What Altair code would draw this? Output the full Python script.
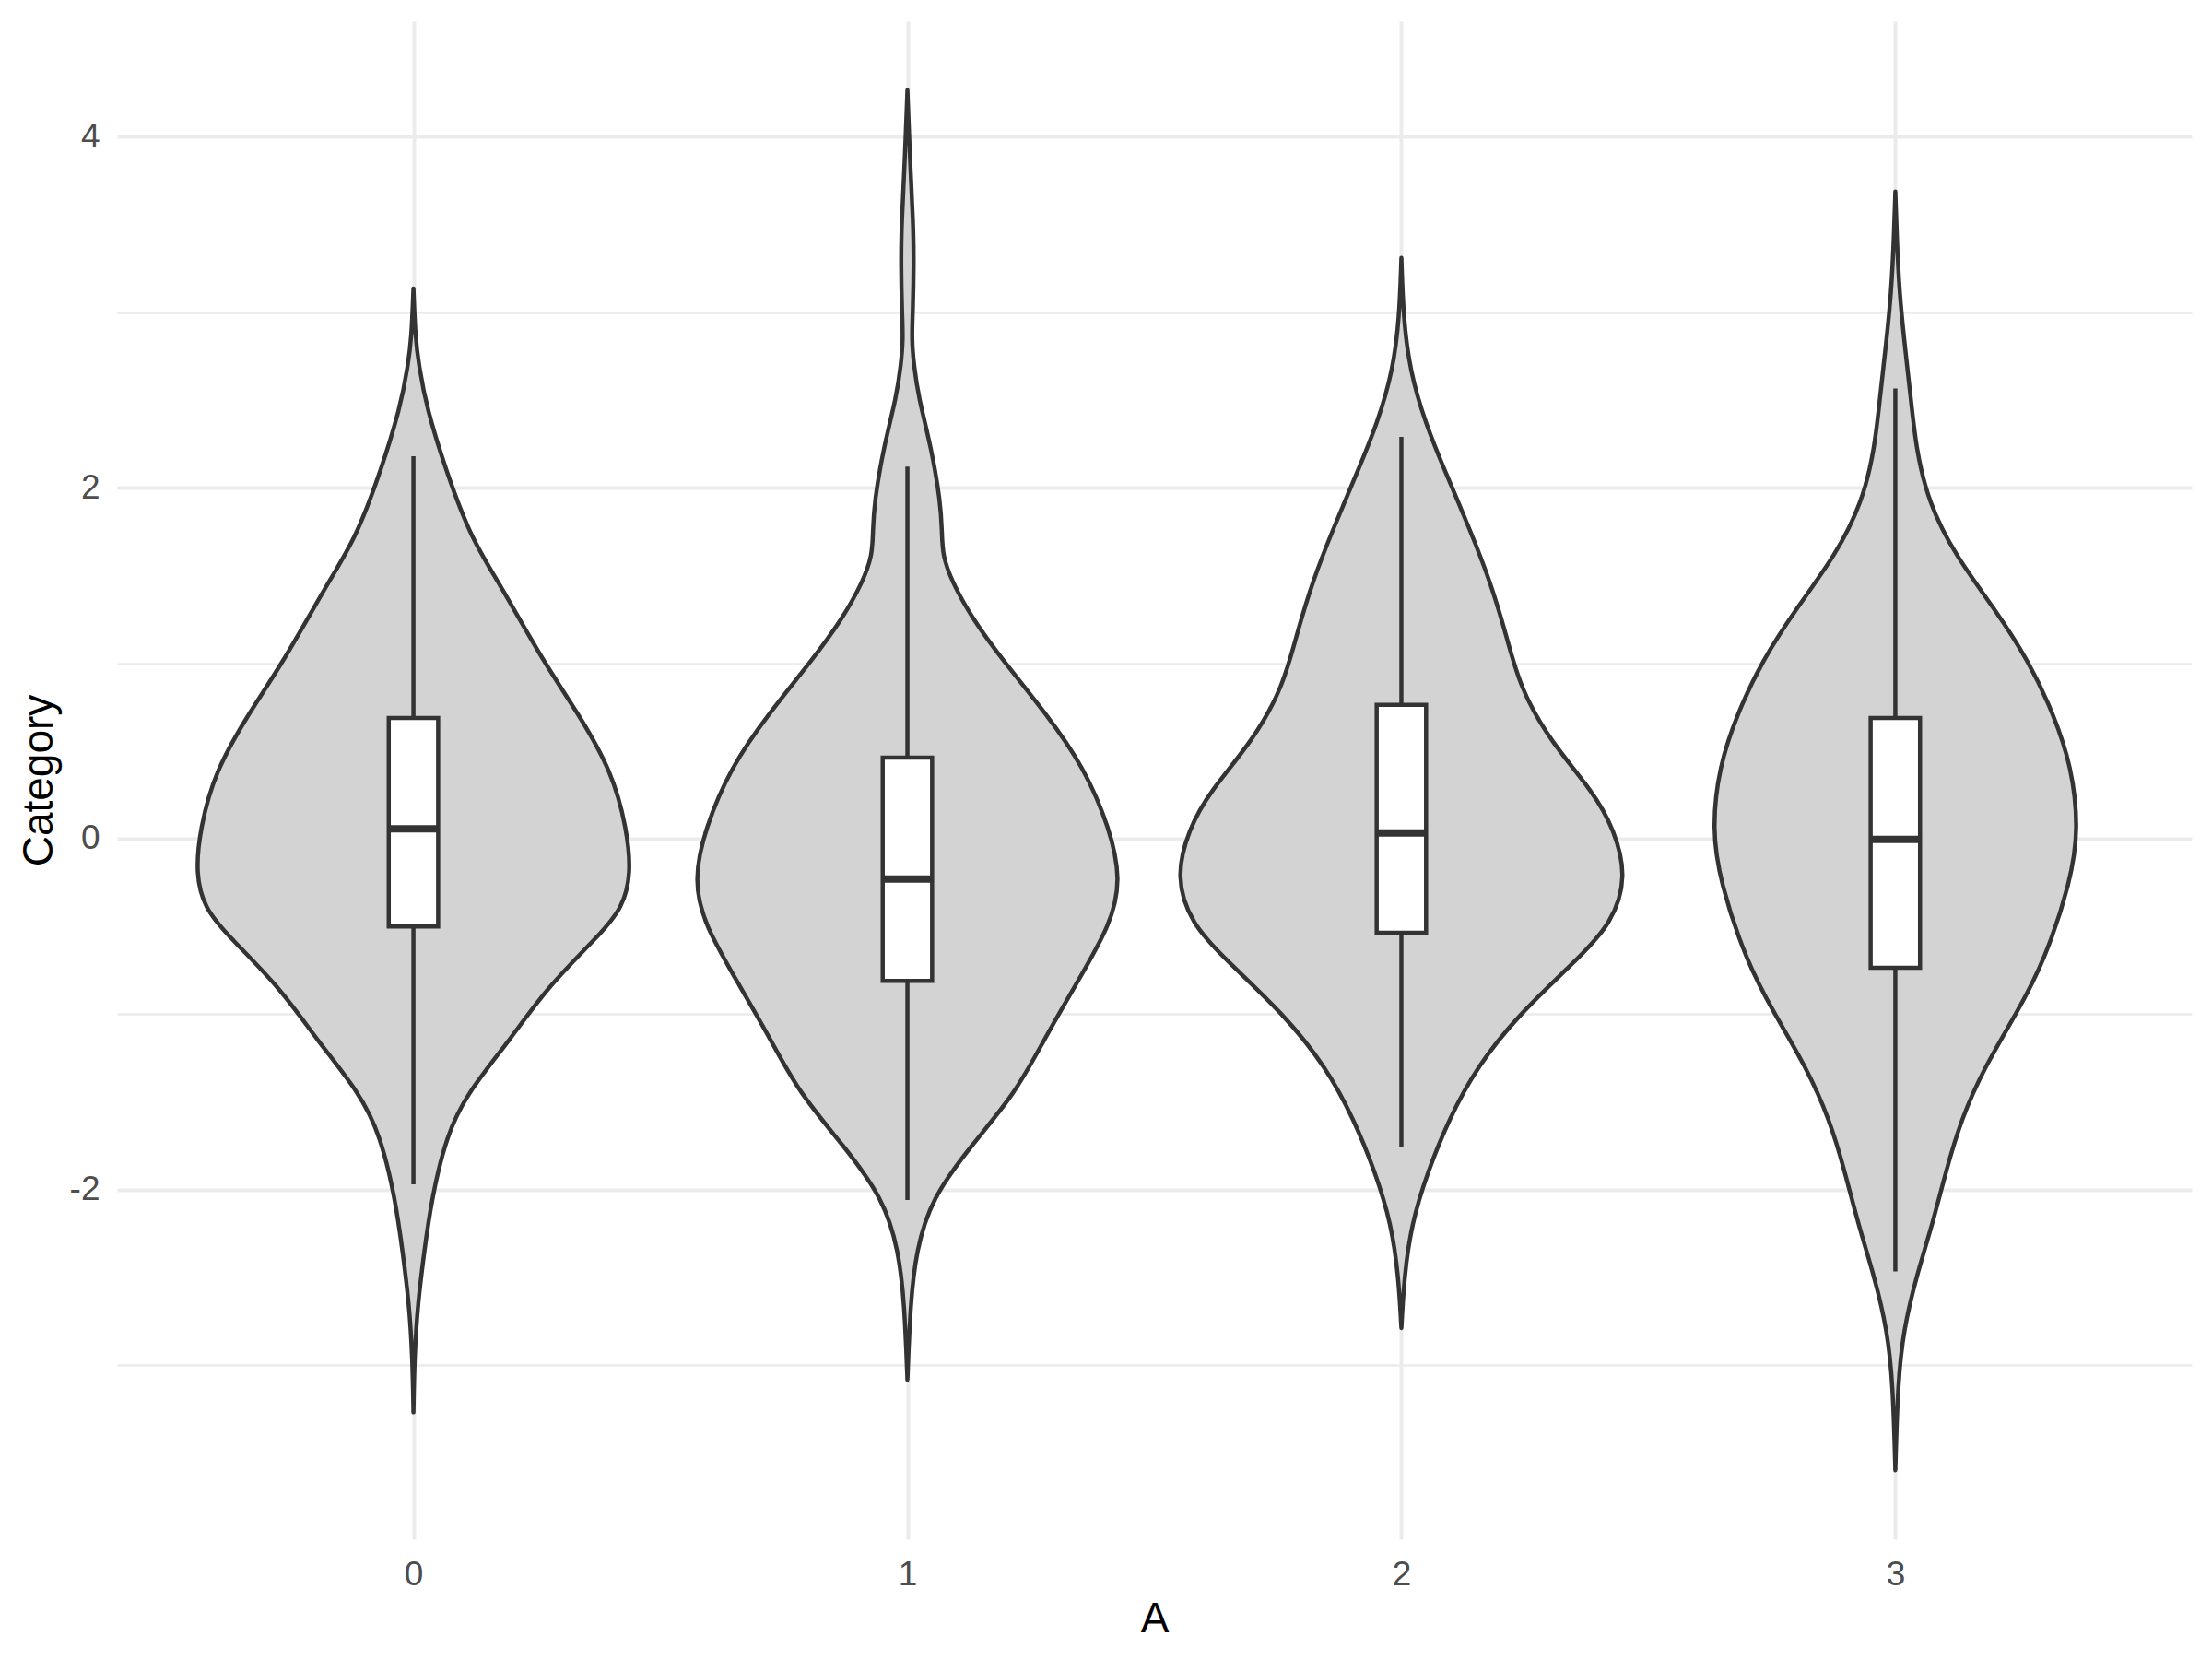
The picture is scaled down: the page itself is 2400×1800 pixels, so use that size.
import altair as alt
import pandas as pd

# ---- data ----
groups = [0, 1, 2, 3]

# violin outlines: value (y) and half-width in x units
v0_y = [3.136, 2.85, 2.70, 2.46, 2.07, 1.706, 1.465, 1.013, 0.712, 0.381, 0.056, -0.2, -0.395, -0.546,
        -0.846, -1.149, -1.45, -1.69, -2.05, -2.35, -2.654, -2.955, -3.27]
v0_w = [0.0, 0.004, 0.011, 0.026, 0.069, 0.118, 0.172, 0.262, 0.334, 0.402, 0.432, 0.441, 0.423, 0.378,
        0.271, 0.195, 0.109, 0.067, 0.037, 0.022, 0.0086, 0.002, 0.0]

v1_y = [4.266, 3.875, 3.5, 3.27, 3.0, 2.85, 2.7, 2.52, 2.22, 1.917, 1.75, 1.615, 1.465, 1.255, 1.013,
        0.712, 0.41, 0.056, -0.23, -0.485, -0.846, -1.149, -1.45, -1.75, -2.05, -2.35, -2.65, -3.085]
v1_w = [0.0, 0.005, 0.012, 0.013, 0.011, 0.0086, 0.013, 0.022, 0.049, 0.067, 0.070, 0.071, 0.090, 0.131,
        0.194, 0.281, 0.357, 0.410, 0.432, 0.413, 0.338, 0.276, 0.219, 0.129, 0.049, 0.0176, 0.006, 0.0]

v2_y = [3.31, 2.97, 2.67, 2.37, 2.07, 1.767, 1.465, 1.164, 0.862, 0.561, 0.26, 0.056, -0.215, -0.486,
        -0.697, -0.998, -1.3, -1.6, -1.9, -2.2, -2.5, -2.79]
v2_w = [0.0, 0.004, 0.017, 0.048, 0.092, 0.138, 0.180, 0.212, 0.240, 0.300, 0.390, 0.430, 0.457, 0.426,
        0.353, 0.239, 0.153, 0.096, 0.053, 0.020, 0.0057, 0.0]

v3_y = [3.688, 3.42, 3.12, 2.82, 2.52, 2.22, 1.917, 1.615, 1.314, 1.013, 0.712, 0.41, 0.056, -0.245,
        -0.697, -0.998, -1.3, -1.6, -1.9, -2.2, -2.5, -2.8, -3.1, -3.6]
v3_w = [0.0, 0.003, 0.008, 0.0186, 0.031, 0.042, 0.067, 0.121, 0.200, 0.270, 0.320, 0.357, 0.371, 0.355,
        0.302, 0.245, 0.181, 0.133, 0.102, 0.075, 0.042, 0.0166, 0.005, 0.0]

# box plot statistics
q1 = [-0.501, -0.811, -0.537, -0.736]
med = [0.056, -0.23, 0.032, -0.004]
q3 = [0.688, 0.462, 0.763, 0.688]
whisk_lo = [-1.97, -2.06, -1.76, -2.467]
whisk_hi = [2.18, 2.12, 2.29, 2.565]

x_ticks = [0, 1, 2, 3]
y_breaks = [-3, -2, -1, 0, 1, 2, 3, 4]

# ---- tables ----
rows = []
for g, ys, ws in zip(groups, [v0_y, v1_y, v2_y, v3_y], [v0_w, v1_w, v2_w, v3_w]):
    for y, w in zip(ys, ws):
        rows.append({"g": g, "y": y, "hw": w})
vdf = pd.DataFrame(rows)

bdf = pd.DataFrame({"g": groups, "q1": q1, "med": med, "q3": q3, "wlo": whisk_lo, "whi": whisk_hi})

FONT = "Liberation Sans"
LINE = "#333333"
GRID = "#EBEBEB"

xscale = alt.Scale(domain=[-0.6, 3.6], nice=False, zero=False)
yscale = alt.Scale(domain=[-3.993, 4.659], nice=False, zero=False)

xaxis = alt.Axis(
    values=x_ticks, format="d", title="A", grid=True, gridColor=GRID, gridWidth=4,
    domain=False, ticks=False, tickSize=0, labelFontSize=37, labelColor="#4D4D4D",
    labelFont=FONT, labelPadding=20, titleFont=FONT, titleFontSize=46,
    titleFontWeight="normal", titleColor="#000000", titleX=1125.5, titleY=100,
    titleAlign="center", titleBaseline="alphabetic",
)
yaxis = alt.Axis(
    values=y_breaks, title="Category", grid=True, gridColor=GRID,
    gridWidth={"condition": {"test": "datum.value % 2 === 0", "value": 4}, "value": 2.5},
    labelExpr="datum.value % 2 === 0 ? '' + datum.value : ''",
    domain=False, ticks=False, tickSize=0, labelFontSize=37, labelColor="#4D4D4D",
    labelFont=FONT, labelPadding=19, titleFont=FONT, titleFontSize=46,
    titleFontWeight="normal", titleColor="#000000", titleX=-71, titleY=823.5,
    titleAngle=270, titleAlign="center", titleBaseline="alphabetic",
)

violin = alt.Chart(vdf).transform_calculate(
    lo="datum.g - datum.hw", hi="datum.g + datum.hw"
).mark_area(
    orient="horizontal", interpolate="basis", fill="#D3D3D3",
    stroke=LINE, strokeWidth=4.5, strokeJoin="round",
).encode(
    y=alt.Y("y:Q", scale=yscale, axis=yaxis),
    x=alt.X("lo:Q", scale=xscale, axis=xaxis, stack=False),
    x2="hi:Q",
    detail="g:N",
)

base = alt.Chart(bdf).transform_calculate(bl="datum.g - 0.05", br="datum.g + 0.05")

whisk_low = base.mark_rule(color=LINE, strokeWidth=4.5).encode(
    x=alt.X("g:Q", scale=xscale), y=alt.Y("wlo:Q", scale=yscale), y2="q1:Q")
whisk_high = base.mark_rule(color=LINE, strokeWidth=4.5).encode(
    x=alt.X("g:Q", scale=xscale), y=alt.Y("q3:Q", scale=yscale), y2="whi:Q")
box = base.mark_rect(fill="#FFFFFF", stroke=LINE, strokeWidth=4.5).encode(
    x=alt.X("bl:Q", scale=xscale), x2="br:Q", y=alt.Y("q1:Q", scale=yscale), y2="q3:Q")
median = base.mark_rule(color=LINE, strokeWidth=8).encode(
    x=alt.X("bl:Q", scale=xscale), x2="br:Q", y=alt.Y("med:Q", scale=yscale))

chart = alt.layer(violin, whisk_low, whisk_high, box, median).properties(
    width=2251, height=1647,
    autosize=alt.AutoSizeParams(type="none"),
    padding={"left": 127, "top": 23, "right": 22, "bottom": 130},
    background="#FFFFFF",
).configure_view(strokeWidth=0)

chart.save("out.html", embed_options={"renderer": "svg", "actions": False})
